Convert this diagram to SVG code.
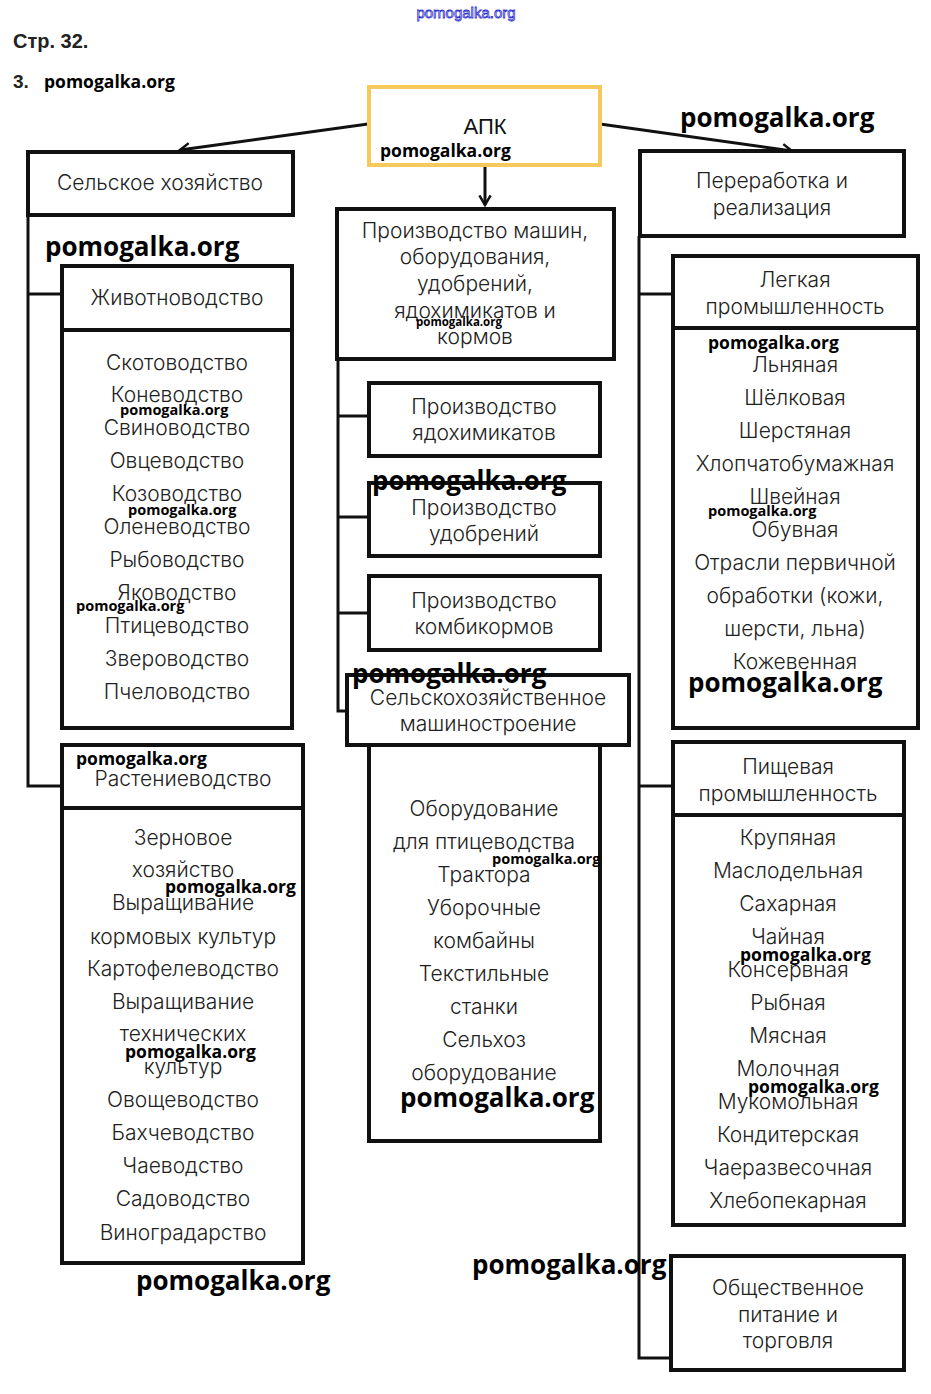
<svg xmlns="http://www.w3.org/2000/svg" width="931" height="1394" viewBox="0 0 931 1394">
<style>
.box{fill:#fff;stroke:#111;stroke-width:4}
.conn{fill:none;stroke:#111;stroke-width:3}
.t{font-family:Inter,"Liberation Sans",Arial,sans-serif;font-weight:300;font-size:21px;fill:#222;text-anchor:middle}
.wm{font-family:"Open Sans","Liberation Sans",sans-serif;font-weight:bold;fill:#000}
.wmb{font-size:26px}
.wms{font-size:14.5px}
.wmm{font-size:17.5px}
</style>
<defs>
<marker id="arr" viewBox="0 0 12 12" refX="10" refY="6" markerWidth="4.5" markerHeight="4.5" orient="auto" markerUnits="strokeWidth">
<path d="M1.5,1 L10,6 L1.5,11" fill="none" stroke="#111" stroke-width="2.2"/>
</marker>
</defs>
<rect width="931" height="1394" fill="#fff"/>
<text x="466" y="18" text-anchor="middle" font-family="Liberation Sans Narrow,Liberation Sans,sans-serif" font-size="15" fill="#fff" stroke="#3030d0" stroke-width="0.8">pomogalka.org</text>
<text x="13" y="48" font-family="Liberation Sans,sans-serif" font-weight="bold" font-size="20" fill="#222">Стр. 32.</text>
<text x="13" y="88" font-family="Liberation Sans,sans-serif" font-weight="bold" font-size="19" fill="#222">3.</text>
<text x="44" y="88" class="wm" font-size="17.5">pomogalka.org</text>

<g id="connectors">
<line class="conn" x1="368" y1="124" x2="180" y2="150" marker-end="url(#arr)" stroke-width="4"/>
<line class="conn" x1="600" y1="124" x2="792" y2="151" marker-end="url(#arr)" stroke-width="4"/>
<line class="conn" x1="485" y1="165" x2="485" y2="205" marker-end="url(#arr)" stroke-width="3"/>
<polyline class="conn" points="28,215 28,786 62,786"/>
<line class="conn" x1="28" y1="294" x2="62" y2="294"/>
<polyline class="conn" points="338,359 338,711 347,711"/>
<line class="conn" x1="338" y1="416" x2="369" y2="416"/>
<line class="conn" x1="338" y1="517" x2="369" y2="517"/>
<line class="conn" x1="338" y1="613" x2="369" y2="613"/>
<polyline class="conn" points="639,236 639,1358 671,1358"/>
<line class="conn" x1="639" y1="294" x2="673" y2="294"/>
<line class="conn" x1="639" y1="786" x2="673" y2="786"/>
</g>

<g id="apk">
<rect x="369" y="87" width="231" height="78" fill="#fff" stroke="#f5c95c" stroke-width="4"/>
<text x="485" y="134" font-family="Liberation Sans,Arial,sans-serif" font-size="22" text-anchor="middle" fill="#111">АПК</text>
</g>

<g id="selhoz">
<rect class="box" x="28" y="152" width="265" height="63"/>
<text x="160" y="190" class="t">Сельское хозяйство</text>
</g>

<g id="zhivot">
<rect class="box" x="62" y="266" width="230" height="64"/>
<text x="177" y="305" class="t">Животноводство</text>
<rect class="box" x="62" y="330" width="230" height="398"/>
<text class="t" x="177" y="370">Скотоводство</text>
<text class="t" x="177" y="402">Коневодство</text>
<text class="t" x="177" y="435">Свиноводство</text>
<text class="t" x="177" y="468">Овцеводство</text>
<text class="t" x="177" y="501">Козоводство</text>
<text class="t" x="177" y="534">Оленеводство</text>
<text class="t" x="177" y="567">Рыбоводство</text>
<text class="t" x="177" y="600">Яководство</text>
<text class="t" x="177" y="633">Птицеводство</text>
<text class="t" x="177" y="666">Звероводство</text>
<text class="t" x="177" y="699">Пчеловодство</text>
</g>

<g id="rasten">
<rect class="box" x="62" y="745" width="241" height="63"/>
<text x="183" y="786" class="t">Растениеводство</text>
<rect class="box" x="62" y="808" width="241" height="455"/>
<text class="t" x="183" y="845">Зерновое</text>
<text class="t" x="183" y="877">хозяйство</text>
<text class="t" x="183" y="910">Выращивание</text>
<text class="t" x="183" y="944">кормовых культур</text>
<text class="t" x="183" y="976">Картофелеводство</text>
<text class="t" x="183" y="1009">Выращивание</text>
<text class="t" x="183" y="1041">технических</text>
<text class="t" x="183" y="1074">культур</text>
<text class="t" x="183" y="1107">Овощеводство</text>
<text class="t" x="183" y="1140">Бахчеводство</text>
<text class="t" x="183" y="1173">Чаеводство</text>
<text class="t" x="183" y="1206">Садоводство</text>
<text class="t" x="183" y="1240">Виноградарство</text>
</g>

<g id="proizv">
<rect class="box" x="337" y="209" width="277" height="150"/>
<text class="t" x="475" y="238">Производство машин,</text>
<text class="t" x="475" y="264">оборудования,</text>
<text class="t" x="475" y="291">удобрений,</text>
<text class="t" x="475" y="318">ядохимикатов и</text>
<text class="t" x="475" y="344">кормов</text>
</g>

<g id="yado">
<rect class="box" x="369" y="383" width="231" height="73"/>
<text class="t" x="484" y="414">Производство</text>
<text class="t" x="484" y="440">ядохимикатов</text>
</g>
<g id="udobr">
<rect class="box" x="369" y="483" width="231" height="73"/>
<text class="t" x="484" y="515">Производство</text>
<text class="t" x="484" y="541">удобрений</text>
</g>
<g id="kombi">
<rect class="box" x="369" y="576" width="231" height="74"/>
<text class="t" x="484" y="608">Производство</text>
<text class="t" x="484" y="634">комбикормов</text>
</g>
<g id="mash">
<rect class="box" x="347" y="675" width="282" height="70"/>
<text class="t" x="488" y="705">Сельскохозяйственное</text>
<text class="t" x="488" y="731">машиностроение</text>
<rect class="box" x="369" y="745" width="231" height="396"/>
<text class="t" x="484" y="816">Оборудование</text>
<text class="t" x="484" y="849">для птицеводства</text>
<text class="t" x="484" y="882">Трактора</text>
<text class="t" x="484" y="915">Уборочные</text>
<text class="t" x="484" y="948">комбайны</text>
<text class="t" x="484" y="981">Текстильные</text>
<text class="t" x="484" y="1014">станки</text>
<text class="t" x="484" y="1047">Сельхоз</text>
<text class="t" x="484" y="1080">оборудование</text>
</g>

<g id="pererab">
<rect class="box" x="640" y="151" width="264" height="85"/>
<text class="t" x="772" y="188">Переработка и</text>
<text class="t" x="772" y="215">реализация</text>
</g>

<g id="legkaya">
<rect class="box" x="673" y="256" width="245" height="72"/>
<text class="t" x="795" y="287">Легкая</text>
<text class="t" x="795" y="314">промышленность</text>
<rect class="box" x="673" y="328" width="245" height="400"/>
<text class="t" x="795" y="372">Льняная</text>
<text class="t" x="795" y="405">Шёлковая</text>
<text class="t" x="795" y="438">Шерстяная</text>
<text class="t" x="795" y="471">Хлопчатобумажная</text>
<text class="t" x="795" y="504">Швейная</text>
<text class="t" x="795" y="537">Обувная</text>
<text class="t" x="795" y="570">Отрасли первичной</text>
<text class="t" x="795" y="603">обработки (кожи,</text>
<text class="t" x="795" y="636">шерсти, льна)</text>
<text class="t" x="795" y="669">Кожевенная</text>
</g>

<g id="pishch">
<rect class="box" x="673" y="742" width="231" height="73"/>
<text class="t" x="788" y="774">Пищевая</text>
<text class="t" x="788" y="801">промышленность</text>
<rect class="box" x="673" y="815" width="231" height="410"/>
<text class="t" x="788" y="845">Крупяная</text>
<text class="t" x="788" y="878">Маслодельная</text>
<text class="t" x="788" y="911">Сахарная</text>
<text class="t" x="788" y="944">Чайная</text>
<text class="t" x="788" y="977">Консервная</text>
<text class="t" x="788" y="1010">Рыбная</text>
<text class="t" x="788" y="1043">Мясная</text>
<text class="t" x="788" y="1076">Молочная</text>
<text class="t" x="788" y="1109">Мукомольная</text>
<text class="t" x="788" y="1142">Кондитерская</text>
<text class="t" x="788" y="1175">Чаеразвесочная</text>
<text class="t" x="788" y="1208">Хлебопекарная</text>
</g>

<g id="obshch">
<rect class="box" x="671" y="1256" width="233" height="114"/>
<text class="t" x="788" y="1295">Общественное</text>
<text class="t" x="788" y="1322">питание и</text>
<text class="t" x="788" y="1348">торговля</text>
</g>

<g id="watermarks">
<text class="wm wmm" x="380" y="157">pomogalka.org</text>
<text class="wm wmb" x="680" y="127">pomogalka.org</text>
<text class="wm wmb" x="45" y="256">pomogalka.org</text>
<text class="wm wms" x="120" y="415">pomogalka.org</text>
<text class="wm wms" x="128" y="515">pomogalka.org</text>
<text class="wm wms" x="76" y="611">pomogalka.org</text>
<text class="wm" font-size="11.5" x="416" y="326">pomogalka.org</text>
<text class="wm wmb" x="372" y="490">pomogalka.org</text>
<text class="wm wmb" x="352" y="683">pomogalka.org</text>
<text class="wm wms" x="492" y="864">pomogalka.org</text>
<text class="wm wmb" x="400" y="1107">pomogalka.org</text>
<text class="wm wmm" x="708" y="349">pomogalka.org</text>
<text class="wm wms" x="708" y="516">pomogalka.org</text>
<text class="wm wmb" x="688" y="692">pomogalka.org</text>
<text class="wm wmm" x="740" y="961">pomogalka.org</text>
<text class="wm wmm" x="748" y="1093">pomogalka.org</text>
<text class="wm wmm" x="76" y="765">pomogalka.org</text>
<text class="wm wmm" x="165" y="893">pomogalka.org</text>
<text class="wm wmm" x="125" y="1058">pomogalka.org</text>
<text class="wm wmb" x="136" y="1290">pomogalka.org</text>
<text class="wm wmb" x="472" y="1274">pomogalka.org</text>
</g>
</svg>
